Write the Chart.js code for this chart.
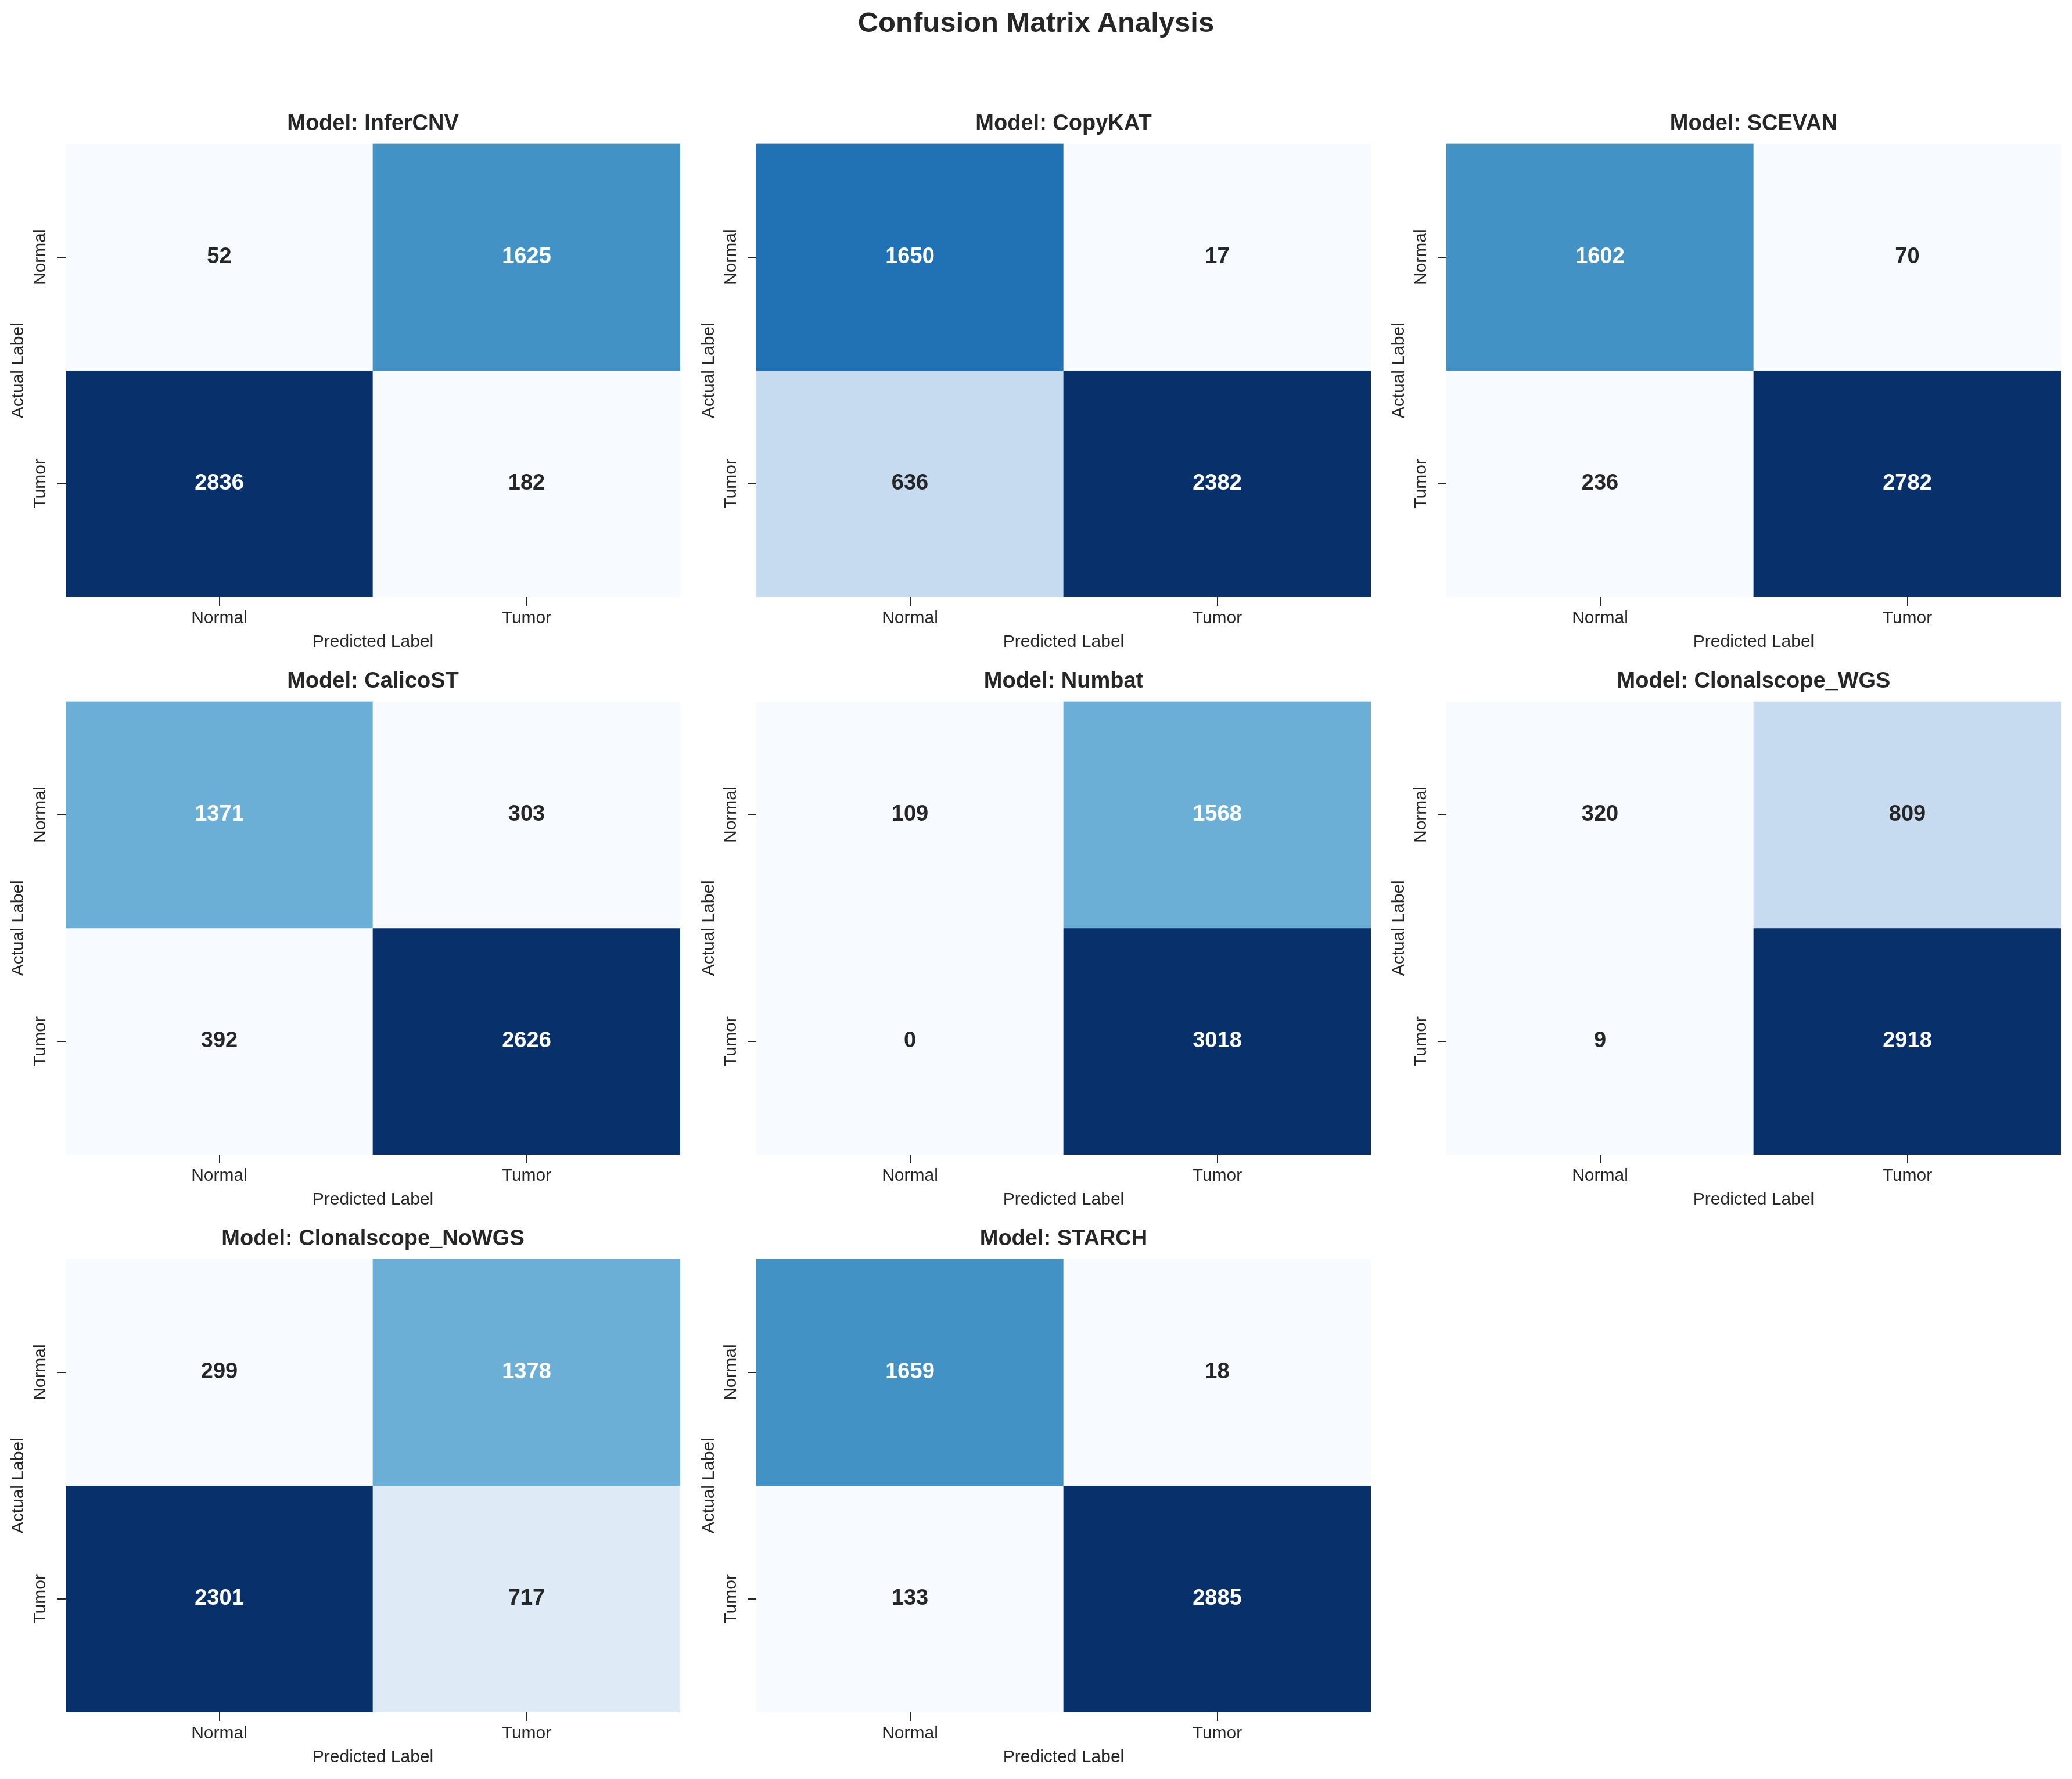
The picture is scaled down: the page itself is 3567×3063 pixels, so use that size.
<!DOCTYPE html>
<html>
<head>
<meta charset="utf-8">
<script src="https://cdn.jsdelivr.net/npm/chart.js@4.4.1/dist/chart.umd.min.js"></script>
<style>
  html, body { margin: 0; padding: 0; background: #ffffff; }
  #page { position: relative; width: 3567px; height: 3063px; background: #ffffff; overflow: hidden; }
  #mainTitle { position: absolute; left: 0; top: 0; width: 3567px; height: 76px; line-height: 76px; text-align: center;
    font-family: "Liberation Sans", Arial, sans-serif; font-weight: bold; font-size: 49px; color: #262626; }
  canvas { position: absolute; }
</style>
</head>
<body>
<div id="page">
  <div id="mainTitle">Confusion Matrix Analysis</div>
</div>
<script>
// ---------------- DATA ----------------
const models = ['InferCNV', 'CopyKAT', 'SCEVAN', 'CalicoST', 'Numbat', 'Clonalscope_WGS', 'Clonalscope_NoWGS', 'STARCH'];
const predictedLabels = ['Normal', 'Tumor'];
const actualLabels = ['Normal', 'Tumor'];
// actual Normal row
const normalPredNormal = [52, 1650, 1602, 1371, 109, 320, 299, 1659];
const normalPredTumor  = [1625, 17, 70, 303, 1568, 809, 1378, 18];
// actual Tumor row
const tumorPredNormal  = [2836, 636, 236, 392, 0, 9, 2301, 133];
const tumorPredTumor   = [182, 2382, 2782, 2626, 3018, 2918, 717, 2885];

// ---------------- STYLE ----------------
const BLUES9 = ['#f7fbff', '#deebf7', '#c6dbef', '#9ecae1', '#6baed6', '#4292c6', '#2171b5', '#08519c', '#08306b'];
const TEXT_DARK = '#262626';
const FONT = '"Liberation Sans", Arial, sans-serif';
Chart.defaults.font.family = FONT;

function hexToRgb(h) {
  return [parseInt(h.slice(1, 3), 16), parseInt(h.slice(3, 5), 16), parseInt(h.slice(5, 7), 16)];
}
function cellColor(v, lo, hi) {
  const t = hi > lo ? (v - lo) / (hi - lo) : 0;
  const idx = Math.min(8, Math.max(0, Math.floor(t * 9)));
  return BLUES9[idx];
}
function luminance(hex) {
  const rgb = hexToRgb(hex).map(c => {
    c = c / 255;
    return c <= 0.03928 ? c / 12.92 : Math.pow((c + 0.055) / 1.055, 2.4);
  });
  return 0.2126 * rgb[0] + 0.7152 * rgb[1] + 0.0722 * rgb[2];
}

const annotatePlugin = {
  id: 'cellAnnot',
  afterDatasetsDraw(chart) {
    const ctx = chart.ctx;
    ctx.save();
    ctx.font = 'bold 38px ' + FONT;
    ctx.textAlign = 'center';
    ctx.textBaseline = 'middle';
    chart.data.datasets.forEach((ds, i) => {
      const meta = chart.getDatasetMeta(i);
      meta.data.forEach((bar, j) => {
        const v = ds.values[j];
        const col = ds.backgroundColor[j];
        ctx.fillStyle = luminance(col) > 0.408 ? TEXT_DARK : '#ffffff';
        ctx.fillText(String(v), bar.x, (bar.y + bar.base) / 2);
      });
    });
    ctx.restore();
  }
};

// layout
const colLefts = [0, 1189, 2377];
const rowTops = [181, 1141, 2101];
const CW = 1284, CH = 947;

const page = document.getElementById('page');

models.forEach((name, k) => {
  const row0 = [normalPredNormal[k], normalPredTumor[k]];
  const row1 = [tumorPredNormal[k], tumorPredTumor[k]];
  const all = row0.concat(row1);
  const lo = Math.min(...all), hi = Math.max(...all);

  const canvas = document.createElement('canvas');
  canvas.width = CW; canvas.height = CH;
  canvas.style.left = colLefts[k % 3] + 'px';
  canvas.style.top = rowTops[Math.floor(k / 3)] + 'px';
  canvas.style.width = CW + 'px';
  canvas.style.height = CH + 'px';
  page.appendChild(canvas);

  const tickGrid = { display: true, drawOnChartArea: false, drawTicks: true, tickLength: 15, offset: false, color: TEXT_DARK, lineWidth: 2 };

  new Chart(canvas.getContext('2d'), {
    type: 'bar',
    data: {
      labels: predictedLabels,
      datasets: [
        { label: actualLabels[0], data: predictedLabels.map(() => [0, 1]), values: row0,
          backgroundColor: row0.map(v => cellColor(v, lo, hi)) },
        { label: actualLabels[1], data: predictedLabels.map(() => [1, 2]), values: row1,
          backgroundColor: row1.map(v => cellColor(v, lo, hi)) }
      ]
    },
    options: {
      responsive: false,
      animation: false,
      devicePixelRatio: 1,
      layout: { padding: 0 },
      datasets: { bar: { barPercentage: 1, categoryPercentage: 1, grouped: false, borderWidth: 0 } },
      plugins: {
        legend: { display: false },
        tooltip: { enabled: false },
        title: { display: true, text: 'Model: ' + name, color: TEXT_DARK,
          font: { size: 38, weight: 'bold', lineHeight: 1.2 }, padding: { top: 10, bottom: 11 } }
      },
      scales: {
        x: {
          type: 'category', offset: true,
          grid: tickGrid,
          border: { display: false },
          ticks: { font: { size: 30 }, color: TEXT_DARK, padding: 4, maxRotation: 0, minRotation: 0 },
          title: { display: true, text: 'Predicted Label', color: TEXT_DARK, font: { size: 30 }, padding: { top: 0, bottom: 4 } },
          afterFit: s => { s.height = 100; }
        },
        y: {
          type: 'linear', min: 0, max: 2, reverse: true,
          afterBuildTicks: s => { s.ticks = [{ value: 0.5 }, { value: 1.5 }]; },
          grid: tickGrid,
          border: { display: false },
          ticks: { font: { size: 30 }, color: TEXT_DARK, minRotation: 90, maxRotation: 90, crossAlign: 'center', padding: -20,
            callback: (v, i) => actualLabels[i] },
          title: { display: true, text: 'Actual Label', color: TEXT_DARK, font: { size: 30 }, padding: { top: 14, bottom: 0 } },
          afterFit: s => { s.width = 113; }
        },
        yBalance: {
          type: 'linear', position: 'right', min: 0, max: 2, display: true,
          grid: { display: false }, border: { display: false }, ticks: { display: false },
          title: { display: false },
          afterFit: s => { s.width = 113; }
        }
      }
    },
    plugins: [annotatePlugin]
  });
});
</script>
</body>
</html>
